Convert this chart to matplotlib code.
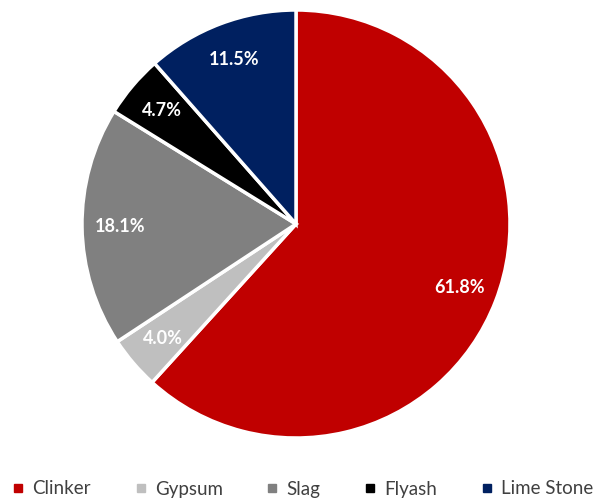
import matplotlib
matplotlib.use("Agg")
import matplotlib.pyplot as plt
from matplotlib.lines import Line2D

categories = ["Clinker", "Gypsum", "Slag", "Flyash", "Lime Stone"]
values = [61.8, 4.0, 18.1, 4.7, 11.5]
colors = ["#C00000", "#BFBFBF", "#808080", "#000000", "#002060"]

plt.rcParams['font.family'] = ['Lato', 'DejaVu Sans']

fig = plt.figure(figsize=(5.94, 5.0), dpi=100)
cx, cy, r = 296, 224, 214
ax = fig.add_axes([(cx - r) / 594, (500 - cy - r) / 500, 2 * r / 594, 2 * r / 500])
wedges, texts, autotexts = ax.pie(
    values, colors=colors, startangle=90, counterclock=False, radius=1,
    autopct="%1.1f%%", pctdistance=0.82,
    wedgeprops=dict(edgecolor="white", linewidth=2.5),
    textprops=dict(color="white", fontsize=13, fontweight="bold"))
for t, v in zip(autotexts, values):
    t.set_text(f"{v:.1f}%")
ax.set_xlim(-1, 1)
ax.set_ylim(-1, 1)
ax.set_aspect("auto")
ax.axis("off")

handles = [Line2D([0], [0], marker="s", color="none", markerfacecolor=c,
                  markeredgecolor=c, markersize=6) for c in colors]
fig.legend(handles, categories, loc="center", bbox_to_anchor=(0.51, 1 - 489 / 500),
           ncol=5, frameon=False, fontsize=13.5, handlelength=0.6,
           handletextpad=0.45, columnspacing=2.35, labelcolor="#404040")
fig.savefig("out.png", dpi=100)
